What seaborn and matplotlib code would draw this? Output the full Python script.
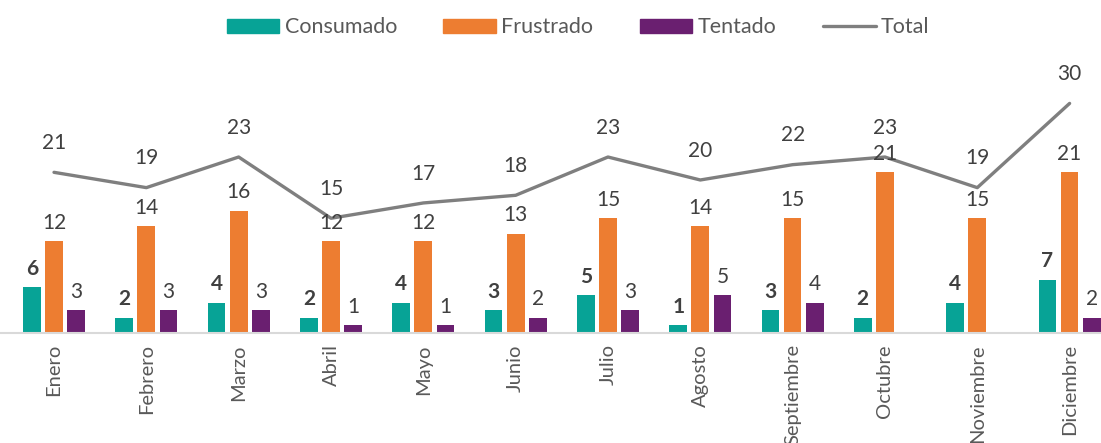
import numpy as np
import pandas as pd
import seaborn as sns
import matplotlib.pyplot as plt
from matplotlib.patches import Patch
from matplotlib.lines import Line2D

meses = ["Enero", "Febrero", "Marzo", "Abril", "Mayo", "Junio", "Julio",
         "Agosto", "Septiembre", "Octubre", "Noviembre", "Diciembre"]
consumado = [6, 2, 4, 2, 4, 3, 5, 1, 3, 2, 4, 7]
frustrado = [12, 14, 16, 12, 12, 13, 15, 14, 15, 21, 15, 21]
tentado = [3, 3, 3, 1, 1, 2, 3, 5, 4, 0, 0, 2]
total = [21, 19, 23, 15, 17, 18, 23, 20, 22, 23, 19, 30]

series = ["Consumado", "Frustrado", "Tentado"]
colores = ["#07A396", "#ED7D31", "#6A1F70"]
gris_linea = "#7F7F7F"
texto = "#404040"

df = pd.DataFrame({"Mes": meses * 3,
                   "Tipo": [s for s in series for _ in meses],
                   "Valor": consumado + frustrado + tentado})

sns.set_style("white")
plt.rcParams['font.family'] = ['Lato', 'DejaVu Sans']

fig = plt.figure(figsize=(11.01, 4.43), dpi=100)
ax = fig.add_axes([0, 0.248, 1, 0.605])

sns.barplot(data=df, x="Mes", y="Valor", hue="Tipo", order=meses,
            hue_order=series, palette=colores, width=0.72, gap=0.2,
            saturation=1, legend=False, ax=ax, edgecolor="none")

x = np.arange(len(meses))
sns.lineplot(x=x, y=total, color=gris_linea, linewidth=2.4, ax=ax)

# etiquetas de las barras
offs = [-0.24, 0, 0.24]
for k, vals in enumerate([consumado, frustrado, tentado]):
    for i, v in enumerate(vals):
        if v == 0:
            continue
        ax.annotate(str(v), (i + offs[k], v), xytext=(0, 6),
                    textcoords="offset points", ha="center", va="bottom",
                    fontsize=15, color=texto,
                    fontweight="bold" if k == 0 else "normal")
for i, v in enumerate(total):
    ax.annotate(str(v), (i, v), xytext=(0, 14), textcoords="offset points",
                ha="center", va="bottom", fontsize=15, color=texto)

ax.set_xlim(-0.585, 11.34)
ax.set_ylim(0, 35)
ax.set_xlabel("")
ax.set_ylabel("")
ax.set_yticks([])
ax.tick_params(axis="x", length=0, pad=8, labelsize=14.5, labelcolor="#595959")
plt.setp(ax.get_xticklabels(), rotation=90)
for s in ["top", "right", "left"]:
    ax.spines[s].set_visible(False)
ax.spines["bottom"].set_color("#D9D9D9")
ax.spines["bottom"].set_linewidth(1.5)

handles = [Patch(color=c) for c in colores] + [Line2D([], [], color=gris_linea, lw=2.4)]
fig.legend(handles, series + ["Total"], loc="center", bbox_to_anchor=(0.525, 0.938),
           ncol=4, frameon=False, fontsize=15.5, labelcolor="#595959",
           handlelength=2.45, handleheight=0.68, handletextpad=0.25,
           columnspacing=2.15)

fig.savefig("out.png", dpi=100)
